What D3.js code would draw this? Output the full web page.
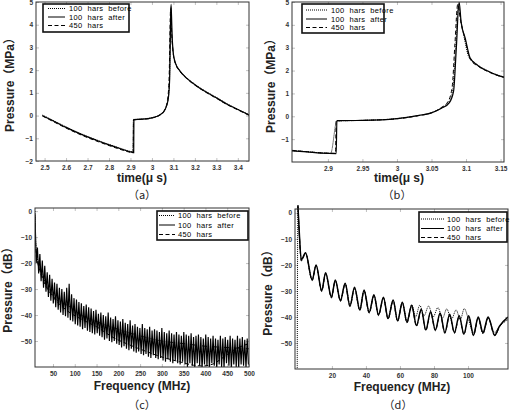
<!DOCTYPE html>
<html><head><meta charset="utf-8">
<script src="https://cdn.jsdelivr.net/npm/d3@7"></script>
<style>body{margin:0;background:#fff}svg{display:block}</style>
</head><body><svg id="chart" width="512" height="413"></svg>
<script>
// ---------- DATA ----------
const legendLabels = ["100  hars  before", "100  hars  after", "450  hars"];

// (a) time signal, t (µs) vs pressure (MPa)
const aBefore = [[2.49,0.02],[2.55,-0.26],[2.6,-0.5],[2.65,-0.72],[2.7,-0.92],[2.75,-1.1],[2.8,-1.27],[2.85,-1.43],[2.9,-1.58],[2.91,-1.6],[2.914,-0.17],[2.95,-0.15],[3.0,-0.09],[3.04,0.06],[3.06,0.26],[3.075,0.7],[3.082,1.6],[3.088,4.8],[3.093,3.5],[3.1,2.7],[3.11,2.3],[3.13,1.98],[3.16,1.68],[3.2,1.38],[3.25,1.07],[3.3,0.8],[3.35,0.52],[3.4,0.28],[3.452,0.04]];
const aAfter = [[2.49,0.0],[2.55,-0.28],[2.6,-0.52],[2.65,-0.74],[2.7,-0.94],[2.75,-1.12],[2.8,-1.29],[2.85,-1.45],[2.9,-1.6],[2.915,-1.63],[2.916,-0.18],[2.95,-0.16],[3.0,-0.1],[3.04,0.05],[3.06,0.25],[3.075,0.68],[3.082,1.5],[3.089,4.9],[3.094,3.5],[3.1,2.7],[3.11,2.3],[3.13,1.97],[3.16,1.66],[3.2,1.36],[3.25,1.05],[3.3,0.78],[3.35,0.5],[3.4,0.27],[3.452,0.03]];
const a450 = [[2.49,-0.02],[2.55,-0.31],[2.6,-0.55],[2.65,-0.77],[2.7,-0.97],[2.75,-1.15],[2.8,-1.32],[2.85,-1.48],[2.9,-1.62],[2.913,-1.64],[2.914,-0.19],[2.95,-0.17],[3.0,-0.11],[3.04,0.04],[3.06,0.27],[3.073,0.72],[3.08,1.7],[3.087,4.7],[3.092,3.6],[3.1,2.65],[3.11,2.27],[3.13,1.95],[3.16,1.64],[3.2,1.34],[3.25,1.03],[3.3,0.76],[3.35,0.48],[3.4,0.25],[3.452,0.01]];

// (b) zoomed time signal
const bBefore = [[2.848,-1.5],[2.87,-1.55],[2.89,-1.6],[2.904,-1.62],[2.913,-0.2],[2.95,-0.18],[3.0,-0.1],[3.03,0.03],[3.05,0.16],[3.065,0.37],[3.075,0.62],[3.081,1.2],[3.085,3.0],[3.089,4.9],[3.092,4.3],[3.097,3.5],[3.104,2.6],[3.11,2.42],[3.118,2.22],[3.132,1.98],[3.145,1.81],[3.155,1.72]];
const bAfter = [[2.848,-1.51],[2.87,-1.56],[2.89,-1.61],[2.912,-1.63],[2.913,-0.19],[2.95,-0.18],[3.0,-0.1],[3.03,0.03],[3.05,0.15],[3.065,0.36],[3.076,0.6],[3.082,1.1],[3.086,3.0],[3.09,5.0],[3.093,4.1],[3.099,3.4],[3.106,2.55],[3.118,2.2],[3.132,1.97],[3.145,1.8],[3.155,1.71]];
const b450 = [[2.848,-1.49],[2.87,-1.55],[2.89,-1.6],[2.911,-1.62],[2.912,-0.2],[2.95,-0.18],[3.0,-0.11],[3.03,0.02],[3.05,0.15],[3.064,0.38],[3.074,0.65],[3.08,1.3],[3.084,3.2],[3.088,4.9],[3.092,4.2],[3.098,3.45],[3.106,2.5],[3.118,2.18],[3.132,1.95],[3.145,1.79],[3.155,1.7]];

// (c) spectrum 0-500 MHz, dB
const cStartMHz = 8.7, cCycleMHz = 5.6;
const cAfterPeaks = [-1,-14,-16.5,-19,-21,-23.5,-24.5,-26,-27.5,-28,-29.5,-30,-31,-29.5,-28,-32,-33.5,-34,-35,-35.5,-36.5,-36,-37,-37.5,-38.5,-38,-39.5,-39,-40,-40.5,-39,-41,-41.5,-40.5,-42,-42.5,-41.5,-43,-43.5,-42,-44,-43.5,-44.5,-45,-43.5,-45,-45.5,-44.5,-46,-45.5,-46,-46.5,-45,-46.5,-47,-46,-47,-47.5,-46.5,-47.5,-48,-46.5,-47.5,-48,-47,-48.5,-48,-47.5,-48.5,-49,-47.5,-48.5,-49,-48,-49,-49.5,-48,-49,-48.5,-49.5,-48,-49,-49.5,-48,-49,-48.5,-49.5,-49];
const cAfterTroughs = [-20,-24,-27,-29.5,-31,-33,-34.5,-35.5,-37,-38,-39,-40,-40.5,-41,-42,-42.5,-43.5,-44,-44.5,-45.5,-45,-46,-46.5,-47,-47.5,-47,-48,-48.5,-49.5,-49,-50,-50.5,-50,-51,-51.5,-52.5,-52,-53,-53.5,-53,-54,-54.5,-54,-55,-55.5,-55,-56,-56.5,-55.5,-56.5,-57,-56.5,-57.5,-58,-57,-58,-58.5,-57.5,-58.5,-59,-58,-59,-60,-58.5,-59.5,-60.5,-58.5,-59.5,-61,-59,-59.5,-60.5,-58.5,-59.5,-61,-59,-60,-60.5,-58.5,-59.5,-61,-59,-60,-60.5,-59,-59.5,-60.5,-59];
const cBefore = [[8.7,0],[11,-14],[15,-19],[20,-22],[30,-26.5],[40,-30],[50,-32.5],[65,-35],[80,-36],[95,-37.5],[110,-39.5],[150,-42.5],[200,-45.5],[250,-48],[300,-50],[350,-51],[400,-52],[450,-52.5],[500,-53]];
const c450 = [[8.7,-2],[11,-16],[15,-20],[20,-23],[30,-27.5],[50,-33],[80,-38],[120,-42],[150,-44.5],[188,-48.6],[226,-51.5],[264,-54],[303,-56.3],[341,-58],[372,-59.3],[395,-59.6],[418,-58.8],[441,-56.3],[470,-53],[500,-51]];

// (d) spectrum 0-120 MHz, dB
const dBefore = [[-0.4,-62],[0,2.5],[0.7,-6],[2,-18.3],[4.5,-15.5],[8.4,-25.6],[10.7,-20.2],[14,-29.6],[16.3,-23.2],[19.7,-32],[22,-26],[25,-33.4],[27.8,-27.2],[30.6,-35.4],[33.3,-28.8],[36.4,-37],[38.9,-29.8],[41.9,-38],[44.7,-31.6],[47.4,-39],[50.3,-32.6],[53,-40.3],[56,-33.6],[58.6,-41.2],[61.4,-34.4],[64.1,-41.5],[66.9,-35.3],[69.2,-40],[71.6,-35.5],[74.2,-39.5],[76.8,-35.8],[79.5,-40],[82.3,-36.4],[85,-40.5],[87.5,-36.9],[90.2,-41],[93,-37.3],[95.5,-41],[97.8,-36.8],[100.5,-41.5],[103.2,-46],[106,-40.5],[108.8,-46.5],[111.8,-40.5],[115.7,-46],[118,-44],[123.5,-41]];
const dAfter = [[0,3],[0.7,-6],[2,-18],[4.5,-15.3],[8.4,-25.8],[10.7,-20],[14,-29.9],[16.3,-23],[19.7,-32.4],[22,-25.8],[25,-33.7],[27.8,-27],[30.6,-35.8],[33.3,-28.6],[36.4,-37.3],[38.9,-29.6],[41.9,-38.3],[44.7,-31.5],[47.4,-39.2],[50.3,-32.4],[53,-40.6],[56,-33.5],[58.6,-41.5],[61.4,-34.3],[64.1,-42],[66.9,-35.5],[69.7,-43.3],[72.5,-37],[75.2,-45],[78,-38],[80.8,-45],[83.6,-38.5],[86.4,-46],[89.2,-39],[92,-46],[94.8,-39.5],[97.6,-46.5],[100.4,-39.5],[103.2,-47],[106,-40],[108.8,-46],[111.8,-40],[115.7,-47],[118.5,-43.5],[123.5,-40]];
const d450 = [[0,2.5],[0.7,-6.5],[2,-18.5],[4.5,-15.6],[8.4,-26],[10.7,-20.4],[14,-30.2],[16.3,-23.4],[19.7,-32.7],[22,-26.2],[25,-34],[27.8,-27.4],[30.6,-36],[33.3,-29],[36.4,-37.6],[38.9,-30],[41.9,-38.6],[44.7,-31.9],[47.4,-39.5],[50.3,-32.8],[53,-40.9],[56,-33.9],[58.6,-41.8],[61.4,-34.7],[64.1,-42.3],[66.9,-35.9],[69.7,-43.6],[72.5,-37.4],[75.2,-45.3],[78,-38.4],[80.8,-45.3],[83.6,-38.9],[86.4,-46.3],[89.2,-39.4],[92,-46.3],[94.8,-39.9],[97.6,-46.8],[100.4,-39.9],[103.2,-47.2],[106,-40.4],[108.8,-46.3],[111.8,-40.4],[115.7,-47.2],[118.5,-43.8],[123.5,-40.3]];

// tick labels
const aXTicks = [2.5,2.6,2.7,2.8,2.9,3,3.1,3.2,3.3,3.4];
const aYTicks = [-2,-1,0,1,2,3,4,5];
const bXTicks = [2.9,2.95,3,3.05,3.1,3.15];
const bYTicks = [-1,0,1,2,3,4,5];
const cXTicks = [50,100,150,200,250,300,350,400,450,500];
const cYTicks = [-50,-40,-30,-20,-10,0];
const dXTicks = [20,40,60,80,100];
const dYTicks = [-50,-40,-30,-20,-10,0];

// ---------- DRAW ----------
const svg = d3.select("#chart");
svg.append("rect").attr("width",512).attr("height",413).attr("fill","#fff");
const FONT = "'Liberation Sans', Arial, sans-serif";

const cAfter = [];
cAfterPeaks.forEach((v,i) => {
  cAfter.push([cStartMHz + i*cCycleMHz, v]);
  cAfter.push([cStartMHz + i*cCycleMHz + cCycleMHz/2, cAfterTroughs[i]]);
});

const styles = {
  before: {dash:"1,1", width:1},
  after: {dash:null, width:1},
  h450: {dash:"4,2.5", width:1}
};

function drawPanel(p) {
  const x = d3.scaleLinear().domain(p.xDomain).range([p.left, p.right]);
  const y = d3.scaleLinear().domain(p.yDomain).range([p.bottom, p.top]);
  const g = svg.append("g");
  const cid = "clip-" + p.id;
  svg.append("clipPath").attr("id", cid).append("rect")
    .attr("x", p.left).attr("y", p.top - p.clipTop)
    .attr("width", p.right - p.left).attr("height", p.bottom - p.top + p.clipTop);

  const fmt = d3.format(p.fmt);
  const xb = g.append("g").attr("transform",`translate(0,${p.bottom})`)
    .call(d3.axisBottom(x).tickValues(p.xTicks).tickFormat(fmt).tickSizeInner(-3).tickSizeOuter(0).tickPadding(4));
  const yl = g.append("g").attr("transform",`translate(${p.left},0)`)
    .call(d3.axisLeft(y).tickValues(p.yTicks).tickFormat(fmt).tickSizeInner(-3).tickSizeOuter(0).tickPadding(3));
  const xt = g.append("g").attr("transform",`translate(0,${p.top})`)
    .call(d3.axisTop(x).tickValues(p.xTicks.filter(v=>v<p.xDomain[1])).tickFormat("").tickSizeInner(-3).tickSizeOuter(0));
  const yr = g.append("g").attr("transform",`translate(${p.right},0)`)
    .call(d3.axisRight(y).tickValues(p.yTicks.filter(v=>v<p.yDomain[1])).tickFormat("").tickSizeInner(-3).tickSizeOuter(0));
  [xb,yl,xt,yr].forEach(a => {
    a.select(".domain").remove();
    a.selectAll(".tick line").attr("stroke","#999").attr("stroke-width",0.6);
    a.selectAll("text").attr("font-family",FONT).attr("font-size",6.5).attr("font-weight","bold").attr("fill","#333");
  });

  const plot = g.append("g").attr("clip-path",`url(#${cid})`);
  p.series.forEach(s => {
    const st = styles[s.style];
    plot.append("path").datum(s.data)
      .attr("fill","none").attr("stroke","#000")
      .attr("stroke-width", s.width || st.width)
      .attr("stroke-dasharray", st.dash)
      .attr("d", d3.line().x(d=>x(d[0])).y(d=>y(d[1])).curve(s.curve || d3.curveMonotoneX));
  });

  g.append("rect").attr("x",p.left).attr("y",p.top)
    .attr("width",p.right-p.left).attr("height",p.bottom-p.top)
    .attr("fill","none").attr("stroke","#333").attr("stroke-width",1);

  const L = p.legend;
  const lg = g.append("g");
  lg.append("rect").attr("x",L.x).attr("y",L.y).attr("width",L.w).attr("height",L.h)
    .attr("fill","#fff").attr("stroke","#111").attr("stroke-width",1.6);
  ["before","after","h450"].forEach((k,i) => {
    const st = styles[k];
    lg.append("line").attr("x1",L.lx1).attr("x2",L.lx2).attr("y1",L.rows[i]).attr("y2",L.rows[i])
      .attr("stroke","#000").attr("stroke-width",1).attr("stroke-dasharray",st.dash);
    lg.append("text").attr("x",L.tx).attr("y",L.rows[i]).attr("dy","0.35em")
      .attr("font-family",FONT).attr("font-size",7.5).attr("letter-spacing",0.35).style("white-space","pre")
      .text(legendLabels[i]);
  });

  g.append("text").attr("transform",`translate(${p.yLabelX},${p.yLabelY}) rotate(-90)`)
    .attr("text-anchor","middle").attr("dy","0.35em")
    .attr("font-family",FONT+", 'Noto Sans CJK SC'").attr("font-size",12).attr("font-weight","bold").attr("fill","#222")
    .text(p.yLabel);
  g.append("text").attr("x",p.xLabelX).attr("y",p.xLabelY).attr("text-anchor","middle").attr("dy","0.35em")
    .attr("font-family",FONT).attr("font-size",12).attr("font-weight","bold").attr("fill","#222")
    .text(p.xLabel);
  g.append("text").attr("x",p.capX).attr("y",p.capY).attr("text-anchor","middle").attr("dy","0.35em")
    .attr("font-family","'Noto Sans CJK SC', "+FONT).attr("font-size",11).attr("fill","#222")
    .text(p.caption);
}

drawPanel({id:"a", left:36, right:249, top:2, bottom:161, xDomain:[2.46,3.452], yDomain:[-2,5],
  xTicks:aXTicks, yTicks:aYTicks, fmt:"", clipTop:0,
  series:[{data:aAfter,style:"after",width:1.2},{data:aBefore,style:"before"},{data:a450,style:"h450"}],
  legend:{x:43,y:4,w:86,h:28,lx1:48,lx2:65,tx:69,rows:[8.5,17,25.5]},
  yLabel:"Pressure（MPa）", yLabelX:10, yLabelY:82, xLabel:"time(μ s)", xLabelX:142, xLabelY:178,
  caption:"（a）", capX:142, capY:195});

drawPanel({id:"b", left:292, right:504, top:2, bottom:162, xDomain:[2.848,3.155], yDomain:[-2,5],
  xTicks:bXTicks, yTicks:bYTicks, fmt:"", clipTop:0,
  series:[{data:bAfter,style:"after",width:1.2},{data:bBefore,style:"before"},{data:b450,style:"h450"}],
  legend:{x:302,y:4,w:82,h:29,lx1:306,lx2:327,tx:331,rows:[10,19,27.5]},
  yLabel:"Pressure（MPa）", yLabelX:271, yLabelY:83, xLabel:"time(μ s)", xLabelX:399, xLabelY:178,
  caption:"（b）", capX:397, capY:195});

drawPanel({id:"c", left:35, right:249, top:208, bottom:367, xDomain:[8.7,500], yDomain:[-60,1.2],
  xTicks:cXTicks, yTicks:cYTicks, fmt:"", clipTop:0,
  series:[{data:cBefore,style:"before"},{data:cAfter,style:"after",curve:d3.curveLinear,width:1.15},{data:c450,style:"h450"}],
  legend:{x:157,y:211,w:91,h:29,lx1:159,lx2:175,tx:178,rows:[215.5,225,234.5]},
  yLabel:"Pressure（dB）", yLabelX:8, yLabelY:287, xLabel:"Frequency (MHz)", xLabelX:142, xLabelY:386,
  caption:"（c）", capX:142, capY:405});

drawPanel({id:"d", left:295, right:508, top:209, bottom:369, xDomain:[-1.7,123.5], yDomain:[-60,1.5],
  xTicks:dXTicks, yTicks:dYTicks, fmt:"", clipTop:7,
  series:[{data:dAfter,style:"after",width:1.5},{data:dBefore,style:"before"},{data:d450,style:"h450"}],
  legend:{x:419,y:212,w:88,h:30,lx1:421,lx2:444,tx:447,rows:[219,228.5,237.5]},
  yLabel:"Pressure（dB）", yLabelX:268, yLabelY:290, xLabel:"Frequency (MHz)", xLabelX:402, xLabelY:387,
  caption:"（d）", capX:398, capY:405});
</script></body></html>
